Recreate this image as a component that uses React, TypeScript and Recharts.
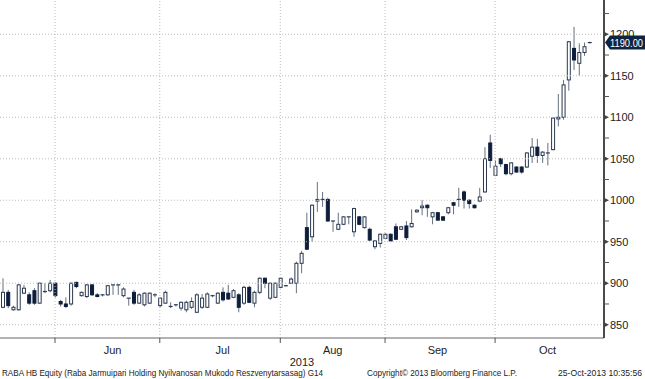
import React from "react";
import { ComposedChart, Bar, XAxis, YAxis, ReferenceLine } from "recharts";

const dates = [
  "2013-05-17","2013-05-21","2013-05-22","2013-05-23","2013-05-24","2013-05-27","2013-05-28","2013-05-29","2013-05-30","2013-05-31",
  "2013-06-03","2013-06-04","2013-06-05","2013-06-06","2013-06-07","2013-06-10","2013-06-11","2013-06-12","2013-06-13","2013-06-14",
  "2013-06-17","2013-06-18","2013-06-19","2013-06-20","2013-06-21","2013-06-24","2013-06-25","2013-06-26","2013-06-27","2013-06-28",
  "2013-07-01","2013-07-02","2013-07-03","2013-07-04","2013-07-05","2013-07-08","2013-07-09","2013-07-10","2013-07-11","2013-07-12",
  "2013-07-15","2013-07-16","2013-07-17","2013-07-18","2013-07-19","2013-07-22","2013-07-23","2013-07-24","2013-07-25","2013-07-26",
  "2013-07-29","2013-07-30","2013-07-31",
  "2013-08-01","2013-08-02","2013-08-05","2013-08-06","2013-08-07","2013-08-08","2013-08-09","2013-08-12","2013-08-13","2013-08-14",
  "2013-08-15","2013-08-16","2013-08-21","2013-08-22","2013-08-23","2013-08-26","2013-08-27","2013-08-28","2013-08-29","2013-08-30",
  "2013-09-02","2013-09-03","2013-09-04","2013-09-05","2013-09-06","2013-09-09","2013-09-10","2013-09-11","2013-09-12","2013-09-13",
  "2013-09-16","2013-09-17","2013-09-18","2013-09-19","2013-09-20","2013-09-23","2013-09-24","2013-09-25","2013-09-26","2013-09-27",
  "2013-09-30",
  "2013-10-01","2013-10-02","2013-10-03","2013-10-04","2013-10-07","2013-10-08","2013-10-09","2013-10-10","2013-10-11","2013-10-14",
  "2013-10-15","2013-10-16","2013-10-17","2013-10-18","2013-10-21","2013-10-22","2013-10-23","2013-10-24","2013-10-25"
];

const opens = [
  871,889,868,868,888,886,891,876,889,891,
  900,878,875,875,901,885,884,898,886,886,
  886,898,898,885,882,889,876,874,876,886,
  873,876,871,874,870,868,871,865,871,871,
  885,876,889,888,883,886,876,895,876,889,
  906,882,883,
  895,897,900,900,924,967,956,999,1000,1001,
  975,965,971,980,962,980,967,965,944,948,
  954,959,968,965,969,968,986,991,994,980,
  985,980,985,997,1000,1010,1000,994,999,1010,
  1069,
  1030,1050,1043,1032,1040,1040,1040,1053,1064,1054,
  1057,1061,1098,1100,1145,1183,1165,1178,1190
];
const highs = [
  906,892,873,899,898,889,894,901,900,904,
  901,880,883,901,902,890,899,899,888,887,
  898,898,899,895,882,892,888,889,889,888,
  883,891,877,875,878,879,883,888,887,889,
  886,889,895,898,893,888,897,897,891,907,
  907,901,901,
  907,898,907,926,939,985,995,1022,1010,1003,
  975,985,981,980,991,981,981,967,952,960,
  960,960,972,969,975,989,989,1000,995,986,
  986,981,992,998,1015,1012,1001,995,1015,1064,
  1079,
  1048,1051,1044,1046,1041,1041,1058,1075,1074,1059,
  1069,1100,1128,1145,1192,1209,1189,1190,1191
];
const lows = [
  870,870,867,867,887,874,874,875,888,889,
  883,872,870,873,894,884,882,885,883,884,
  885,886,886,883,873,874,875,872,875,883,
  871,875,870,872,867,865,869,864,869,870,
  883,875,878,880,882,865,874,876,871,887,
  894,880,882,
  894,896,899,888,912,940,950,986,992,974,
  962,964,970,971,956,970,966,951,941,943,
  953,950,952,964,952,967,985,982,980,971,
  976,975,983,983,992,990,990,990,998,1009,
  1039,
  1029,1040,1030,1030,1033,1032,1039,1045,1045,1045,
  1042,1060,1089,1097,1132,1157,1150,1174,1189
];
const closes = [
  889,873,871,898,894,876,876,900,890,900,
  885,875,872,900,896,889,898,886,884,886,
  897,897,897,893,881,876,886,888,888,885,
  882,889,872,874,877,877,878,886,882,887,
  884,888,880,881,891,871,895,877,889,906,
  900,900,900,
  906,897,905,924,936,941,994,1001,1001,975,
  974,971,980,979,990,971,980,952,951,959,
  959,951,953,968,955,972,988,993,991,985,
  976,976,991,994,1001,1000,996,991,1004,1050,
  1048,
  1041,1044,1032,1045,1034,1034,1057,1064,1054,1058,
  1057,1099,1100,1139,1191,1169,1178,1185,1190
];

const yTicks = [850, 875, 900, 925, 950, 975, 1000, 1025, 1050, 1075, 1100, 1125, 1150, 1175, 1200, 1225];
const gridPrices = [850, 900, 950, 1000, 1050, 1100, 1150, 1200];
const monthStarts = ["2013-06-03", "2013-07-01", "2013-08-01", "2013-09-02", "2013-10-01"];
const monthLabelDates = ["2013-06-18", "2013-07-17", "2013-08-15", "2013-09-16", "2013-10-15"];
const monthNames = ["Jun", "Jul", "Aug", "Sep", "Oct"];
const lastPrice = 1190;
const lastPriceText = "1190.00";
const yearLabel = "2013";
const footerLeft = "RABA HB Equity (Raba Jarmuipari Holding Nyilvanosan Mukodo Reszvenytarsasag) G14";
const footerMid = "Copyright\u00A9 2013 Bloomberg Finance L.P.";
const footerRight = "25-Oct-2013 10:35:56";

const data = dates.map((d, i) => ({
  d,
  o: opens[i],
  h: highs[i],
  l: lows[i],
  c: closes[i],
  range: [lows[i], highs[i]],
}));

const DARK = "#0d1d3a";
const OUTLINE = "#2a3850";
const WICK = "#66707f";
const FONT = "'Liberation Sans', Arial, sans-serif";

const Candle = (props: any) => {
  const { x, y, width, height, payload } = props;
  if (!payload || x == null || y == null) return <g />;
  const { o, h, l, c } = payload;
  const k = h > l ? height / (h - l) : 0;
  const yOf = (v: number) => y + (h - v) * k;
  const cx = x + width / 2;
  const top = yOf(Math.max(o, c));
  const bot = yOf(Math.min(o, c));
  const up = c > o;
  const bodyH = bot - top;
  return (
    <g>
      <line x1={cx} x2={cx} y1={yOf(h)} y2={yOf(l)} stroke={WICK} strokeWidth={1} />
      {bodyH < 1.2 ? (
        <line x1={cx - 2} x2={cx + 2} y1={top} y2={top} stroke={OUTLINE} strokeWidth={1.2} />
      ) : (
        <rect
          x={cx - 1.5}
          y={top}
          width={3}
          height={bodyH}
          fill={up ? "#ffffff" : DARK}
          stroke={up ? OUTLINE : DARK}
          strokeWidth={1}
        />
      )}
    </g>
  );
};

const XTick = (props: any) => {
  const { x, y, payload } = props;
  const v = payload.value;
  const mi = monthStarts.indexOf(v);
  if (mi >= 0) {
    return <line x1={x} x2={x} y1={y} y2={y + 5} stroke="#555" strokeWidth={1} />;
  }
  const li = monthLabelDates.indexOf(v);
  if (li >= 0) {
    return (
      <text x={x} y={y + 16} textAnchor="middle" fontSize={11} fontFamily={FONT} fill="#222">
        {monthNames[li]}
      </text>
    );
  }
  return <g />;
};

const YTick = (props: any) => {
  const { x, y, payload } = props;
  const v = payload.value;
  if (v === lastPrice) {
    return (
      <g>
        <path
          d={`M${x + 1},${y} L${x + 6},${y - 7} L${x + 41},${y - 7} L${x + 41},${y + 7} L${x + 6},${y + 7} Z`}
          fill="#0f2342"
        />
        <text
          x={x + 6}
          y={y + 4}
          fontSize={10.5}
          fontFamily={FONT}
          fill="#ffffff"
          textLength={33}
          lengthAdjust="spacingAndGlyphs"
        >
          {lastPriceText}
        </text>
      </g>
    );
  }
  const major = v % 50 === 0;
  return (
    <g>
      {major ? (
        <path d={`M${x},${y - 2.5} L${x + 5},${y} L${x},${y + 2.5} Z`} fill="#444" />
      ) : (
        <line x1={x} x2={x + 5} y1={y} y2={y} stroke="#555" strokeWidth={1} />
      )}
      {major && (
        <text x={x + 6} y={y + 4} fontSize={11} fontFamily={FONT} fill="#222">
          {v}
        </text>
      )}
    </g>
  );
};

export default function App() {
  return (
    <div style={{ position: "absolute", left: 0, top: 0, width: 645, height: 379, background: "#fff" }}>
      <ComposedChart
        width={645}
        height={379}
        data={data}
        margin={{ top: 0, right: 0, left: 0, bottom: 11 }}
        barCategoryGap={0}
      >
        <XAxis
          dataKey="d"
          type="category"
          ticks={[...monthStarts, ...monthLabelDates]}
          interval={0}
          tick={<XTick />}
          tickLine={false}
          tickSize={0}
          tickMargin={0}
          axisLine={{ stroke: "#666", strokeWidth: 1 }}
          padding={{ left: 0, right: 12 }}
          height={30}
          label={{ value: yearLabel, position: "insideBottom", offset: 2, fontSize: 11, fontFamily: FONT, fill: "#222" }}
        />
        <YAxis
          orientation="right"
          type="number"
          domain={[834, 1241.3]}
          allowDataOverflow
          ticks={[...yTicks, lastPrice]}
          interval={0}
          tick={<YTick />}
          tickLine={false}
          tickSize={0}
          tickMargin={0}
          width={41}
          axisLine={{ stroke: "#4a4a4a", strokeWidth: 2 }}
        />
        {gridPrices.map((p) => (
          <ReferenceLine key={"h" + p} y={p} stroke="#bcbcbc" strokeDasharray="1 2" strokeWidth={1} />
        ))}
        {monthStarts.map((m) => (
          <ReferenceLine key={"v" + m} x={m} stroke="#bcbcbc" strokeDasharray="1 2" strokeWidth={1} />
        ))}
        <Bar dataKey="range" barSize={4} shape={<Candle />} isAnimationActive={false} />
      </ComposedChart>
      <svg width={645} height={379} style={{ position: "absolute", left: 0, top: 0, pointerEvents: "none" }}>
        <text x={2} y={376} fontSize={9} fontFamily={FONT} fill="#222" textLength={321} lengthAdjust="spacingAndGlyphs">
          {footerLeft}
        </text>
        <text x={367} y={376} fontSize={9} fontFamily={FONT} fill="#222" textLength={150} lengthAdjust="spacingAndGlyphs">
          {footerMid}
        </text>
        <text x={558} y={376} fontSize={9} fontFamily={FONT} fill="#222" textLength={84} lengthAdjust="spacingAndGlyphs">
          {footerRight}
        </text>
      </svg>
    </div>
  );
}
